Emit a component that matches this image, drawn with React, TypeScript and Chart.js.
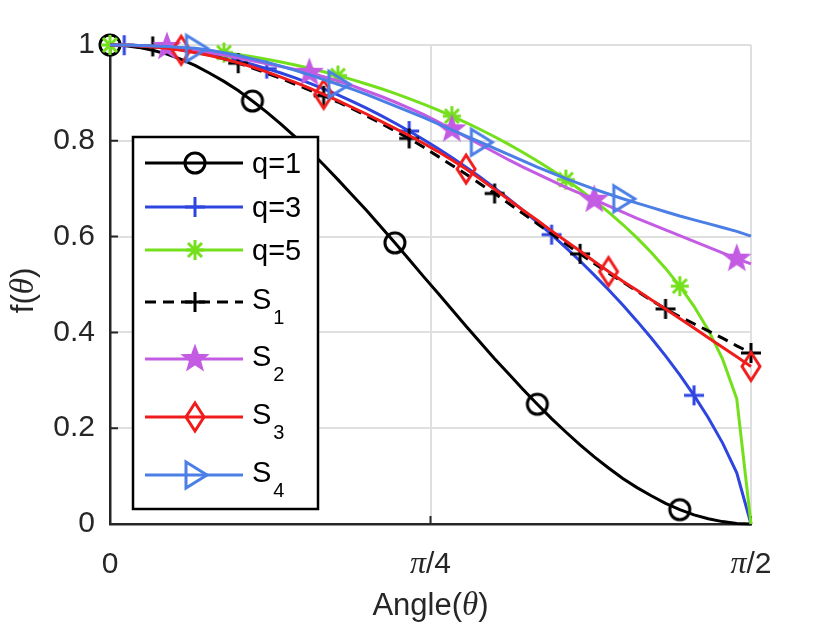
import { useEffect, useRef } from "react";
import { Chart, registerables } from "chart.js";

Chart.register(...registerables);

// sample angles in degrees (0 .. 90 stands for 0 .. pi/2)
const angles = [
  0, 2, 4, 6, 8, 10, 12, 14, 16, 18, 20, 22, 24, 26, 28, 30, 32, 34, 36, 38, 40, 42, 44,
  46, 48, 50, 52, 54, 56, 58, 60, 62, 64, 66, 68, 70, 72, 74, 76, 78, 80, 82, 84, 86, 88, 90,
];

const q1 = [
  1, 0.999, 0.995, 0.989, 0.981, 0.97, 0.957, 0.941, 0.924, 0.905, 0.883, 0.86, 0.835, 0.808,
  0.78, 0.75, 0.719, 0.687, 0.655, 0.621, 0.587, 0.552, 0.517, 0.483, 0.448, 0.413, 0.379,
  0.345, 0.313, 0.281, 0.25, 0.22, 0.192, 0.165, 0.14, 0.117, 0.095, 0.076, 0.059, 0.043,
  0.03, 0.019, 0.011, 0.005, 0.001, 0,
];
const q3 = [
  1, 0.9996, 0.9984, 0.9963, 0.9935, 0.9898, 0.9854, 0.9801, 0.974, 0.9671, 0.9594, 0.9508,
  0.9415, 0.9313, 0.9204, 0.9086, 0.8959, 0.8825, 0.8682, 0.8531, 0.8372, 0.8204, 0.8028,
  0.7843, 0.765, 0.7448, 0.7237, 0.7017, 0.6787, 0.6548, 0.63, 0.604, 0.5771, 0.549, 0.5197,
  0.4891, 0.4571, 0.4235, 0.3883, 0.351, 0.3113, 0.2686, 0.2219, 0.1694, 0.1068, 0,
];
const q5 = [
  1, 0.9998, 0.999, 0.9978, 0.9961, 0.9939, 0.9912, 0.988, 0.9843, 0.9801, 0.9754, 0.9702,
  0.9645, 0.9582, 0.9514, 0.9441, 0.9362, 0.9277, 0.9187, 0.9091, 0.8989, 0.888, 0.8765,
  0.8644, 0.8515, 0.838, 0.8236, 0.8085, 0.7926, 0.7757, 0.7579, 0.739, 0.719, 0.6978, 0.6752,
  0.651, 0.6252, 0.5973, 0.5668, 0.5336, 0.4965, 0.4544, 0.4052, 0.3447, 0.2613, 0,
];
const s1 = [
  1, 1, 0.999, 0.997, 0.994, 0.99, 0.985, 0.979, 0.971, 0.962, 0.952, 0.941, 0.93, 0.918,
  0.906, 0.894, 0.881, 0.867, 0.852, 0.837, 0.821, 0.805, 0.787, 0.768, 0.749, 0.73, 0.71,
  0.69, 0.669, 0.648, 0.627, 0.606, 0.585, 0.564, 0.544, 0.524, 0.505, 0.486, 0.467, 0.449,
  0.433, 0.418, 0.403, 0.388, 0.372, 0.357,
];
const s2 = [
  1, 1, 0.999, 0.998, 0.996, 0.993, 0.989, 0.984, 0.979, 0.973, 0.967, 0.961, 0.955, 0.949,
  0.942, 0.934, 0.925, 0.915, 0.904, 0.893, 0.881, 0.868, 0.855, 0.84, 0.824, 0.808, 0.792,
  0.776, 0.76, 0.745, 0.731, 0.717, 0.703, 0.69, 0.677, 0.664, 0.651, 0.638, 0.626, 0.614,
  0.602, 0.59, 0.578, 0.566, 0.554, 0.543,
];
const s3 = [
  1, 1, 0.998, 0.996, 0.993, 0.989, 0.984, 0.978, 0.971, 0.963, 0.954, 0.944, 0.933, 0.922,
  0.91, 0.897, 0.884, 0.87, 0.856, 0.841, 0.826, 0.811, 0.795, 0.778, 0.76, 0.741, 0.72,
  0.699, 0.677, 0.655, 0.634, 0.612, 0.591, 0.57, 0.548, 0.527, 0.507, 0.488, 0.468, 0.449,
  0.429, 0.409, 0.389, 0.369, 0.349, 0.329,
];
const s4 = [
  1, 1, 0.999, 0.998, 0.997, 0.995, 0.993, 0.989, 0.984, 0.978, 0.971, 0.964, 0.956, 0.947,
  0.938, 0.928, 0.918, 0.908, 0.897, 0.885, 0.873, 0.861, 0.849, 0.836, 0.823, 0.81, 0.797,
  0.784, 0.771, 0.758, 0.745, 0.733, 0.721, 0.71, 0.699, 0.689, 0.679, 0.67, 0.661, 0.652,
  0.643, 0.635, 0.627, 0.619, 0.611, 0.601,
];

// which samples carry a marker
const marksQ1 = [0, 10, 20, 30, 40];
const marksQ3 = [1, 11, 21, 31, 41];
const marksQ5 = [0, 8, 16, 24, 32, 40];
const marksS1 = [3, 9, 15, 21, 27, 33, 39, 45];
const marksS2 = [4, 14, 24, 34, 44];
const marksS3 = [5, 15, 25, 35, 45];
const marksS4 = [6, 16, 26, 36];

const xTicks = [0, 45, 90];
const xTickLabels = ["0", "π/4", "π/2"];
const yTicks = [0, 0.2, 0.4, 0.6, 0.8, 1];

const AXIS = "#262626";
const GRID = "#dfdfdf";
const SANS = '"Liberation Sans", Arial, sans-serif';
const SERIF = '"Liberation Serif", "Times New Roman", serif';

type Marker = "circle" | "plus" | "asterisk" | "pentagram" | "diamond" | "triangle";

const series: {
  label: string;
  values: number[];
  marks: number[];
  color: string;
  marker: Marker;
  dash: number[];
}[] = [
  { label: "q=1", values: q1, marks: marksQ1, color: "#000000", marker: "circle", dash: [] },
  { label: "q=3", values: q3, marks: marksQ3, color: "#2f45e0", marker: "plus", dash: [] },
  { label: "q=5", values: q5, marks: marksQ5, color: "#74e01c", marker: "asterisk", dash: [] },
  { label: "S_1", values: s1, marks: marksS1, color: "#000000", marker: "plus", dash: [11, 7] },
  { label: "S_2", values: s2, marks: marksS2, color: "#c35ce3", marker: "pentagram", dash: [] },
  { label: "S_3", values: s3, marks: marksS3, color: "#f01c1c", marker: "diamond", dash: [] },
  { label: "S_4", values: s4, marks: marksS4, color: "#4b7fe6", marker: "triangle", dash: [] },
];

function makeMarker(kind: Marker, color: string): HTMLCanvasElement {
  const size = 36;
  const c = document.createElement("canvas");
  c.width = size;
  c.height = size;
  const g = c.getContext("2d")!;
  g.translate(size / 2, size / 2);
  g.strokeStyle = color;
  g.fillStyle = color;
  g.lineWidth = 3;
  g.beginPath();
  if (kind === "circle") {
    g.arc(0, 0, 10, 0, Math.PI * 2);
  } else if (kind === "plus") {
    g.moveTo(-10, 0);
    g.lineTo(10, 0);
    g.moveTo(0, -10);
    g.lineTo(0, 10);
  } else if (kind === "asterisk") {
    g.moveTo(-9, 0);
    g.lineTo(9, 0);
    g.moveTo(0, -10);
    g.lineTo(0, 10);
    g.moveTo(-7, -7);
    g.lineTo(7, 7);
    g.moveTo(-7, 7);
    g.lineTo(7, -7);
  } else if (kind === "pentagram") {
    for (let i = 0; i < 10; i++) {
      const r = i % 2 === 0 ? 12.5 : 5.2;
      const a = -Math.PI / 2 + (i * Math.PI) / 5;
      if (i === 0) g.moveTo(r * Math.cos(a), r * Math.sin(a));
      else g.lineTo(r * Math.cos(a), r * Math.sin(a));
    }
    g.closePath();
    g.fill();
    g.lineWidth = 2;
  } else if (kind === "diamond") {
    g.moveTo(0, -14);
    g.lineTo(9, 0);
    g.lineTo(0, 14);
    g.lineTo(-9, 0);
    g.closePath();
  } else {
    g.moveTo(-9, -13);
    g.lineTo(12, 0);
    g.lineTo(-9, 13);
    g.closePath();
  }
  g.stroke();
  return c;
}

// draw a run of text where π and θ use an italic serif face
function drawMixed(
  ctx: CanvasRenderingContext2D,
  text: string,
  size: number,
  cx: number,
  y: number
) {
  const parts = Array.from(text).map((ch) => ({
    ch,
    font: ch === "π" || ch === "θ" ? `italic ${size + 2}px ${SERIF}` : `${size}px ${SANS}`,
  }));
  let total = 0;
  const widths = parts.map((p) => {
    ctx.font = p.font;
    const w = ctx.measureText(p.ch).width;
    total += w;
    return w;
  });
  let x = cx - total / 2;
  ctx.textAlign = "left";
  parts.forEach((p, i) => {
    ctx.font = p.font;
    ctx.fillText(p.ch, x, y);
    x += widths[i];
  });
}

const legendBox = { x: 133, y: 137, w: 185, h: 372 };
const legendRows = [26, 70, 113, 165, 222, 280, 338];

export default function App() {
  const canvasRef = useRef<HTMLCanvasElement>(null);
  const chartRef = useRef<Chart | null>(null);

  useEffect(() => {
    if (!canvasRef.current) return;
    chartRef.current?.destroy();

    const markers = series.map((s) => makeMarker(s.marker, s.color));

    const decor = {
      id: "decor",
      beforeDatasetsDraw(chart: Chart) {
        const { ctx, chartArea: a } = chart;
        const x = chart.scales.x;
        const y = chart.scales.y;
        ctx.save();
        ctx.strokeStyle = AXIS;
        ctx.lineWidth = 2;
        ctx.beginPath();
        yTicks.forEach((v) => {
          const py = y.getPixelForValue(v);
          ctx.moveTo(a.left, py);
          ctx.lineTo(a.left + 8, py);
        });
        xTicks.forEach((v) => {
          const px = x.getPixelForValue(v);
          ctx.moveTo(px, a.bottom);
          ctx.lineTo(px, a.bottom - 8);
        });
        ctx.stroke();
        ctx.restore();
      },
      afterDatasetsDraw(chart: Chart) {
        const { ctx, chartArea: a } = chart;
        const x = chart.scales.x;
        ctx.save();
        ctx.fillStyle = AXIS;
        ctx.textBaseline = "alphabetic";
        xTicks.forEach((v, i) => {
          drawMixed(ctx, xTickLabels[i], 30, x.getPixelForValue(v), a.bottom + 49);
        });
        drawMixed(ctx, "Angle(θ)", 31, (a.left + a.right) / 2, a.bottom + 91);
        ctx.save();
        ctx.translate(24, (a.top + a.bottom) / 2 + 6);
        ctx.rotate(-Math.PI / 2);
        ctx.textBaseline = "middle";
        drawMixed(ctx, "f(θ)", 31, 0, 0);
        ctx.restore();

        // legend
        const b = legendBox;
        ctx.fillStyle = "#ffffff";
        ctx.fillRect(b.x, b.y, b.w, b.h);
        ctx.strokeStyle = "#000000";
        ctx.lineWidth = 2.5;
        ctx.strokeRect(b.x, b.y, b.w, b.h);
        series.forEach((s, i) => {
          const ry = b.y + legendRows[i];
          ctx.save();
          ctx.strokeStyle = s.color;
          ctx.lineWidth = 3;
          ctx.setLineDash(s.dash);
          ctx.beginPath();
          ctx.moveTo(b.x + 12, ry);
          ctx.lineTo(b.x + 110, ry);
          ctx.stroke();
          ctx.restore();
          const m = markers[i];
          ctx.drawImage(m, b.x + 62 - m.width / 2, ry - m.height / 2);
          ctx.fillStyle = "#000000";
          ctx.textAlign = "left";
          const [main, sub] = s.label.split("_");
          ctx.font = `29px ${SANS}`;
          if (sub) {
            ctx.fillText(main, b.x + 119, ry + 7);
            const w = ctx.measureText(main).width;
            ctx.font = `20px ${SANS}`;
            ctx.fillText(sub, b.x + 121 + w, ry + 22);
          } else {
            ctx.fillText(main, b.x + 119, ry + 10);
          }
        });
        ctx.restore();
      },
    };

    chartRef.current = new Chart(canvasRef.current, {
      type: "line",
      data: {
        datasets: series.map((s, i) => ({
          label: s.label,
          data: angles.map((a, k) => ({ x: a, y: s.values[k] })),
          borderColor: s.color,
          borderWidth: 3,
          borderDash: s.dash,
          tension: 0,
          fill: false,
          clip: false as any,
          order: series.length - i,
          pointStyle: markers[i] as any,
          pointRadius: (c: any) => (s.marks.includes(c.dataIndex) ? 10 : 0),
          pointHoverRadius: 0,
        })),
      },
      options: {
        animation: false,
        responsive: true,
        maintainAspectRatio: false,
        events: [],
        layout: { padding: { top: 45, right: 79, left: 0, bottom: 0 } },
        plugins: { legend: { display: false }, tooltip: { enabled: false } },
        scales: {
          x: {
            type: "linear",
            min: 0,
            max: 90,
            ticks: { stepSize: 45, display: false },
            grid: { color: GRID, lineWidth: 2, drawTicks: false },
            border: { color: AXIS, width: 2.5 },
            afterFit: (s: any) => {
              s.height = 99;
            },
          },
          y: {
            min: 0,
            max: 1,
            ticks: {
              stepSize: 0.2,
              padding: 15,
              color: AXIS,
              font: { family: SANS, size: 30 },
              callback: (v: any) => String(Number(Number(v).toFixed(1))),
            },
            grid: { color: GRID, lineWidth: 2, drawTicks: false },
            border: { color: AXIS, width: 2.5 },
            afterFit: (s: any) => {
              s.width = 110;
            },
          },
        },
      },
      plugins: [decor],
    });
    return () => chartRef.current?.destroy();
  }, []);

  return (
    <div style={{ position: "absolute", left: 0, top: 0, width: 830, height: 623, background: "#fff" }}>
      <canvas ref={canvasRef} />
    </div>
  );
}
